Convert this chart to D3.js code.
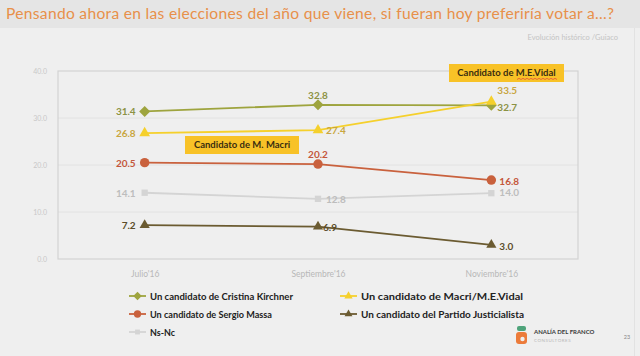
<!DOCTYPE html>
<html><head><meta charset="utf-8">
<script src="https://cdn.jsdelivr.net/npm/d3@7"></script>
<style>html,body{margin:0;padding:0;background:#efefef;}svg{display:block;}</style>
</head><body><svg id="c" width="640" height="356"></svg>
<script>
const months = ["Julio'16", "Septiembre'16", "Noviembre'16"];
const yTicks = [0, 10, 20, 30, 40];
const seriesNames = ["Un candidato de Cristina Kirchner", "Un candidato de Macri/M.E.Vidal", "Un candidato de Sergio Massa", "Un candidato del  Partido Justicialista", "Ns-Nc"];
const cfkValues = [31.4, 32.8, 32.7];
const macriValues = [26.8, 27.4, 33.5];
const massaValues = [20.5, 20.2, 16.8];
const pjValues = [7.2, 6.9, 3.0];
const nsncValues = [14.1, 12.8, 14.0];
const annotations = ["Candidato de M. Macri", "Candidato de M.E.Vidal"];
const titleText = "Pensando ahora en las elecciones del año que viene, si fueran hoy preferiría votar a...?";
const subtitleText = "Evolución histórico /Guiaco";

const FONT = "'Lato','Open Sans',sans-serif";
const svg = d3.select("#c");
svg.append("rect").attr("width",640).attr("height",356).attr("fill","#efefef");
svg.append("rect").attr("width",640).attr("height",28).attr("fill","#e5e5e5");
svg.append("line").attr("x1",634.5).attr("x2",634.5).attr("y1",28).attr("y2",356).attr("stroke","#e2e2e2");
svg.append("text").attr("x",6).attr("y",19).attr("fill","#e8904a").attr("font-family",FONT)
  .attr("font-size",15.6).attr("textLength",608).attr("lengthAdjust","spacing").text(titleText);
svg.append("text").attr("x",618).attr("y",40).attr("text-anchor","end").attr("fill","#c4c4c4")
  .attr("font-family",FONT).attr("font-size",7.5).text(subtitleText);

const L=58, R=578, T=71, B=259;
const x = d3.scalePoint().domain(months).range([L,R]).padding(0.5);
const y = d3.scaleLinear().domain([0,40]).range([B,T]);

// grid
svg.append("g").selectAll("line").data(yTicks.filter(d=>d>0&&d<40)).join("line")
  .attr("x1",L).attr("x2",R).attr("y1",d=>y(d)).attr("y2",d=>y(d)).attr("stroke","#e2e2e2").attr("stroke-width",1);
svg.append("rect").attr("x",L).attr("y",T).attr("width",R-L).attr("height",B-T)
  .attr("fill","none").attr("stroke","#d2d2d2").attr("stroke-width",1.2);

const yAxis = svg.append("g").attr("transform",`translate(${L-8},0)`)
  .call(d3.axisLeft(y).tickValues(yTicks).tickFormat(d3.format(".1f")).tickSize(0));
yAxis.select(".domain").remove();
yAxis.selectAll("text").attr("fill","#c8c8c8").attr("font-family",FONT).attr("font-size",7);

const xAxis = svg.append("g").attr("transform",`translate(0,${B+9})`)
  .call(d3.axisBottom(x).tickSize(0));
xAxis.select(".domain").remove();
xAxis.selectAll("text").attr("fill","#b8b8b8").attr("font-family",FONT).attr("font-size",8.5);

const rotSquare = {draw(ctx, size){const r=Math.sqrt(size/2)*1.05; ctx.moveTo(0,-r); ctx.lineTo(r,0); ctx.lineTo(0,r); ctx.lineTo(-r,0); ctx.closePath();}};
const series = [
  {name:seriesNames[0], vals:cfkValues, color:"#9ea43e", lab:"#8c9244", shape:rotSquare, size:55,
   pos:[["l"],["t"],["r"]]},
  {name:seriesNames[1], vals:macriValues, color:"#f5d02c", lab:"#c9a640", shape:d3.symbolTriangle, size:50,
   pos:[["l"],["r"],["tr"]]},
  {name:seriesNames[2], vals:massaValues, color:"#c9613d", lab:"#c4573b", shape:d3.symbolCircle, size:70,
   pos:[["l"],["t"],["r"]]},
  {name:seriesNames[3], vals:pjValues, color:"#6b5b31", lab:"#5b4d2a", shape:d3.symbolTriangle, size:45,
   pos:[["l"],["r"],["r"]]},
  {name:seriesNames[4], vals:nsncValues, color:"#d4d4d4", lab:"#bdbdbd", shape:d3.symbolSquare, size:40,
   pos:[["l"],["r"],["r"]]}
];
const drawOrder = [4,3,2,0,1];
const line = d3.line().x((d,i)=>x(months[i])).y(d=>y(d));
drawOrder.forEach(k=>{
  const s = series[k];
  svg.append("path").attr("d",line(s.vals)).attr("fill","none").attr("stroke",s.color).attr("stroke-width",1.8);
  svg.append("g").selectAll("path").data(s.vals).join("path")
    .attr("transform",(d,i)=>`translate(${x(months[i])},${y(d)})`)
    .attr("d",d3.symbol().type(s.shape).size(s.size)).attr("fill",s.color);
});
drawOrder.forEach(k=>{
  const s = series[k];
  s.vals.forEach((v,i)=>{
    const p = s.pos[i][0];
    const px = x(months[i]), py = y(v);
    let tx=px, ty=py+4, anchor="middle";
    if(p==="l"){tx=px-9; anchor="end";}
    if(p==="r"){tx=px+8; anchor="start";}
    if(p==="t"){ty=py-6;}
    if(p==="tr"){tx=px+6; ty=py-8; anchor="start";}
    if(k===0&&i===2){tx=px+6; ty=py+6;}
    if(k===4&&i===2){ty=py+3;}
    if(k===2&&i===2){ty=py+5;}
    if(k===3&&i===2){ty=py+5;}
    if(k===3&&i===1){tx=px+5;}
    svg.append("text").attr("x",tx).attr("y",ty).attr("text-anchor",anchor)
      .attr("fill",s.lab).attr("font-family",FONT).attr("font-weight","bold").attr("font-size",10).text(d3.format(".1f")(v));
  });
});

// annotation boxes
function box(text, cx, cy, w, h){
  svg.append("rect").attr("x",cx-w/2).attr("y",cy-h/2).attr("width",w).attr("height",h).attr("fill","#f8c227");
  svg.append("text").attr("x",cx).attr("y",cy+3.3).attr("text-anchor","middle").attr("fill","#3a2e10")
    .attr("font-family",FONT).attr("font-weight","bold").attr("font-size",9.5).text(text);
}
box(annotations[0], 242, 145, 114, 18);
box(annotations[1], 506.5, 73, 115, 18);
svg.append("path").attr("d","M517,79.5 l2,-1.2 2,1.2 2,-1.2 2,1.2 2,-1.2 2,1.2 2,-1.2 2,1.2 2,-1.2 2,1.2 2,-1.2 2,1.2 2,-1.2 2,1.2 2,-1.2 2,1.2 2,-1.2 2,1.2 2,-1.2 2,1.2")
  .attr("fill","none").attr("stroke","#e04040").attr("stroke-width",0.7);

// legend
const legPos = [[129,296],[340,296],[129,314],[340,314],[129,332]];
const legLen = [143, 162, 122, 163, 25];
series.forEach((s,k)=>{
  const [lx,ly] = legPos[k];
  svg.append("line").attr("x1",lx).attr("x2",lx+17).attr("y1",ly).attr("y2",ly).attr("stroke",s.color).attr("stroke-width",1.8);
  svg.append("path").attr("transform",`translate(${lx+8.5},${ly})`).attr("d",d3.symbol().type(s.shape).size(s.size*0.6)).attr("fill",s.color);
  svg.append("text").attr("x",lx+21).attr("y",ly+3.5).attr("fill","#222").attr("font-family",FONT)
    .attr("font-weight","bold").attr("font-size",9.8).attr("textLength",legLen[k]).attr("lengthAdjust","spacingAndGlyphs").text(s.name);
});

// logo
svg.append("rect").attr("x",517).attr("y",326).attr("width",9).attr("height",5).attr("rx",2).attr("fill","#4ea37a");
svg.append("rect").attr("x",516).attr("y",332).attr("width",11).attr("height",12).attr("rx",3).attr("fill","#ec7b3a");
svg.append("circle").attr("cx",522.5).attr("cy",339).attr("r",2.2).attr("fill","#efefef");
svg.append("text").attr("x",534).attr("y",334).attr("fill","#3a3a3a").attr("font-family",FONT)
  .attr("font-weight","bold").attr("font-size",6).text("ANALÍA DEL FRANCO");
svg.append("text").attr("x",534).attr("y",342).attr("fill","#b8b8b8").attr("font-family",FONT)
  .attr("font-size",4.5).attr("letter-spacing",0.5).text("CONSULTORES");
svg.append("text").attr("x",627).attr("y",339).attr("text-anchor","middle").attr("fill","#888").attr("font-family",FONT)
  .attr("font-size",5.5).text("23");
</script></body></html>
